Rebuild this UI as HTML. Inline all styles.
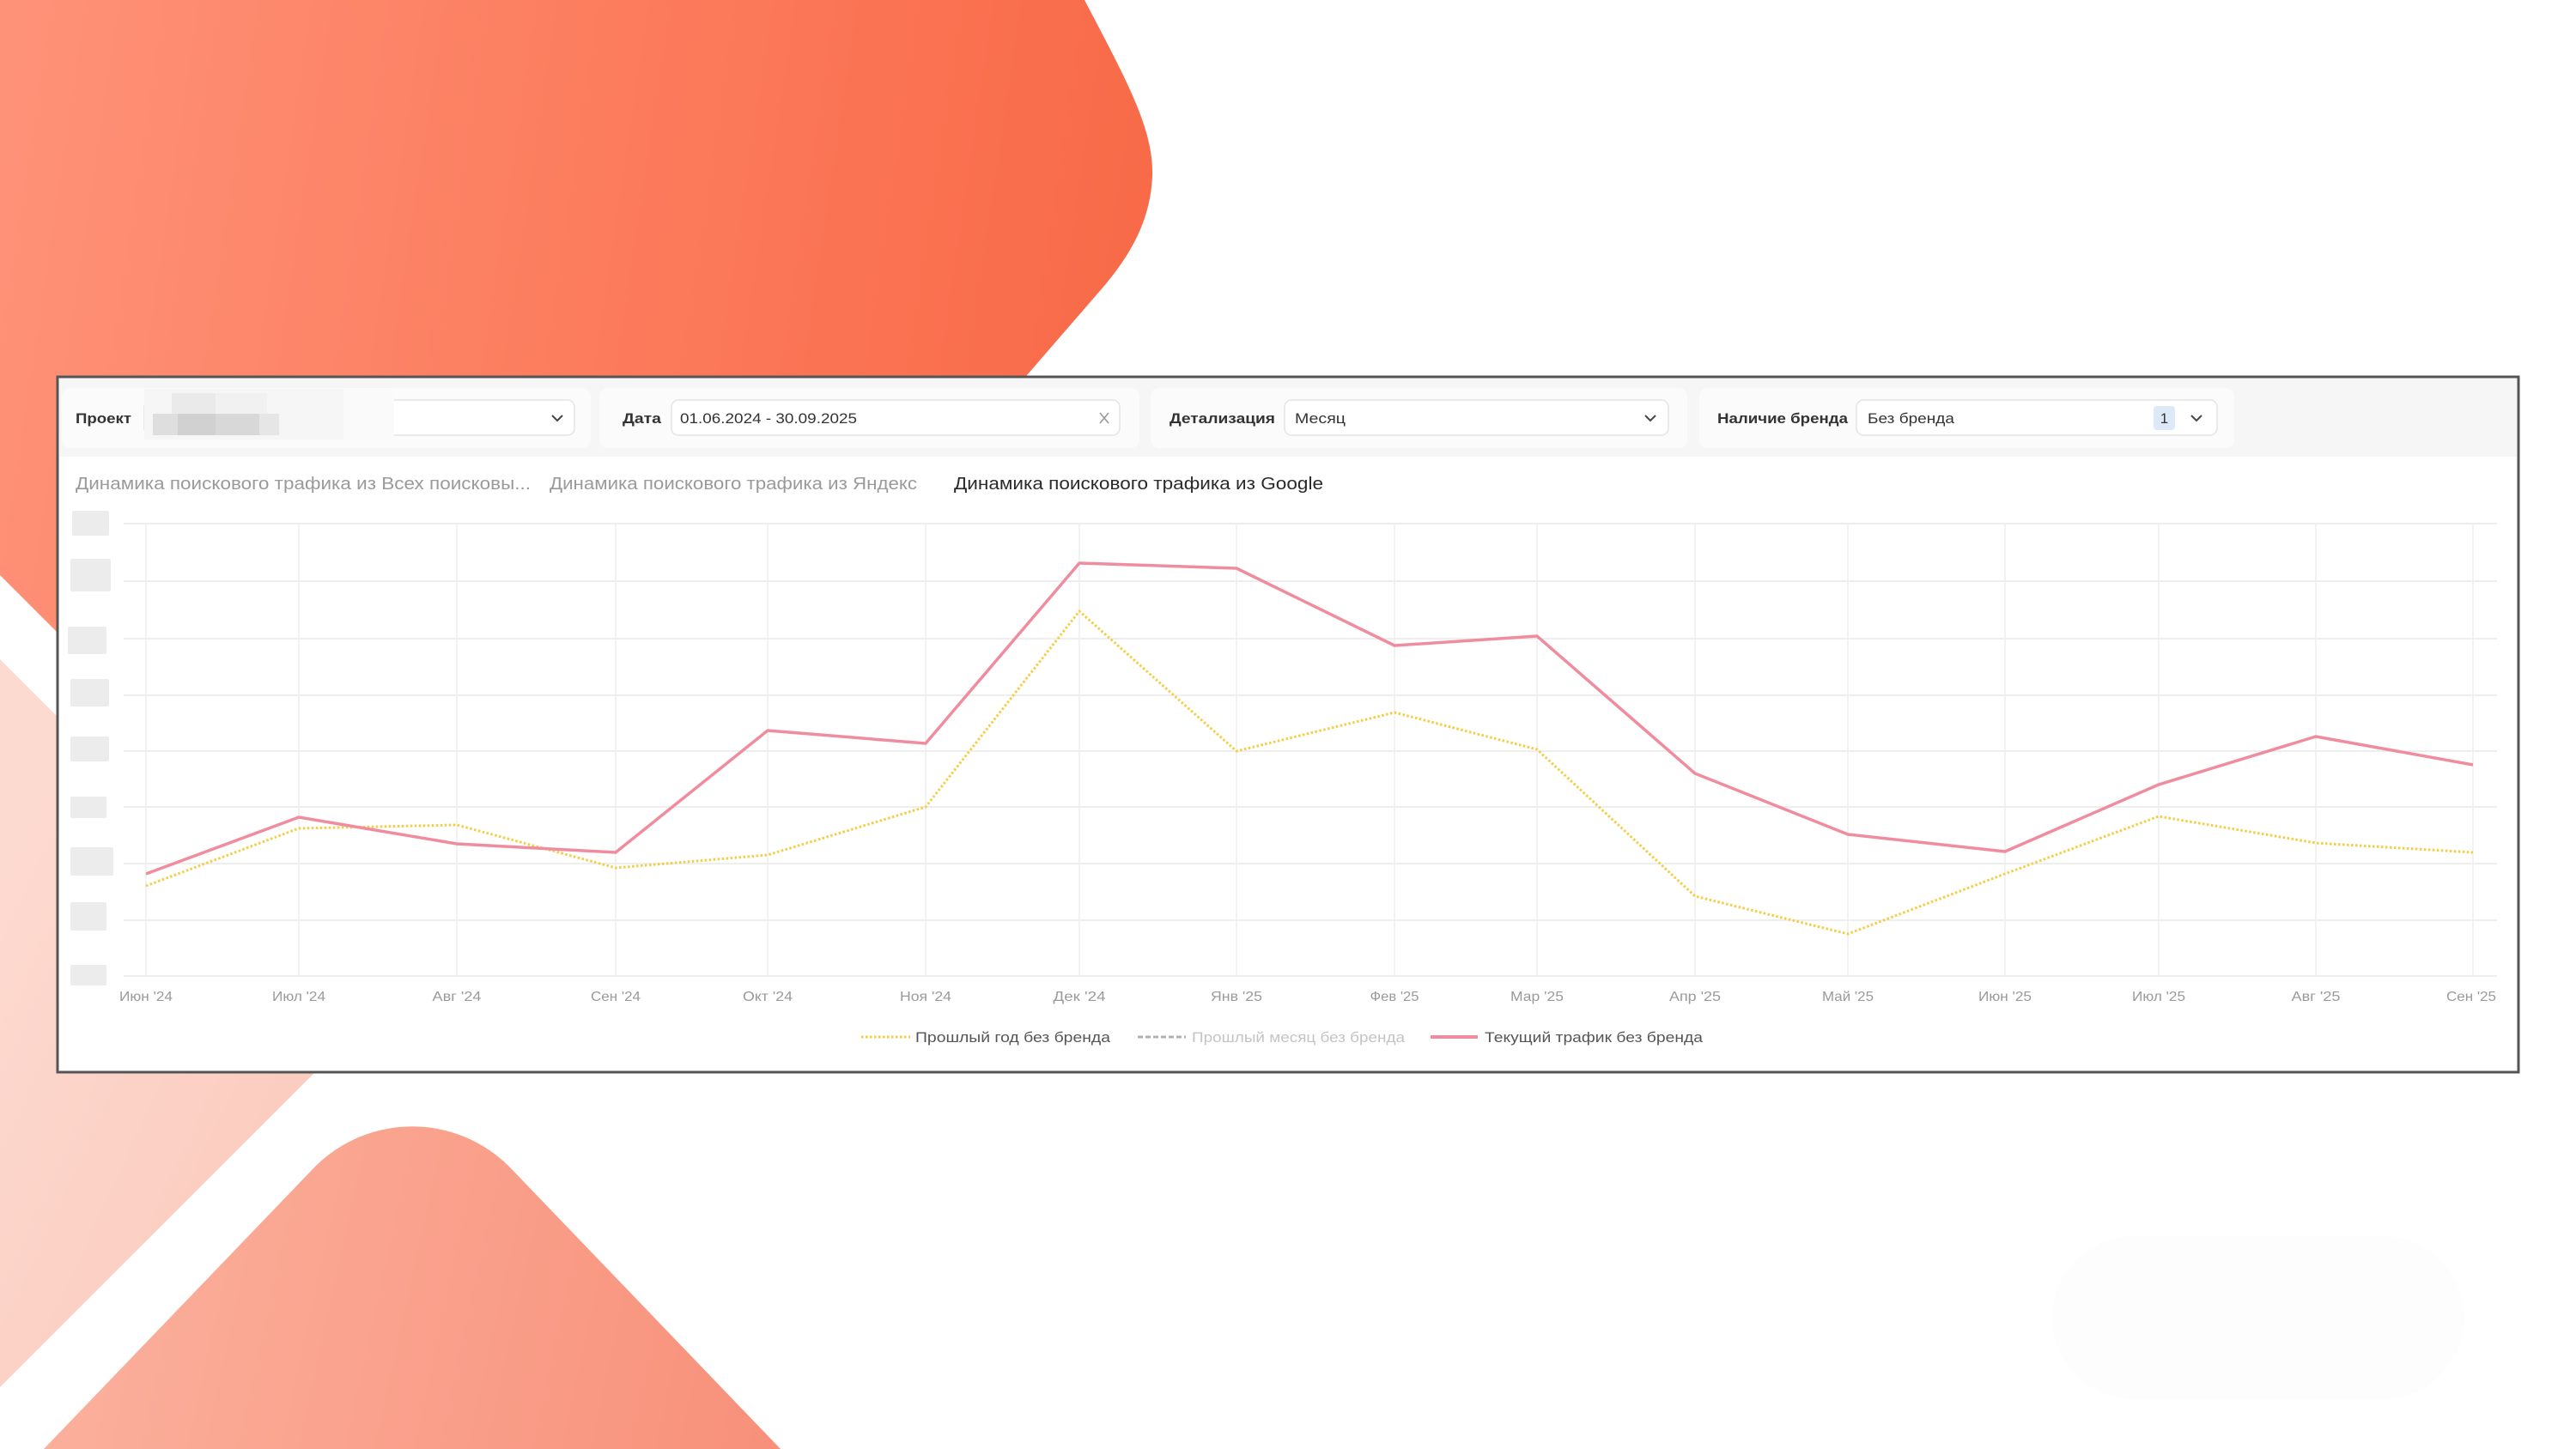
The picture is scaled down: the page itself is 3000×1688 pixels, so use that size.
<!DOCTYPE html>
<html>
<head>
<meta charset="utf-8">
<style>
  html, body { margin: 0; padding: 0; background: #ffffff; }
  svg { display: block; }
  text { font-family: "Liberation Sans", "DejaVu Sans", sans-serif; }
</style>
</head>
<body>
<svg width="3000" height="1688" viewBox="0 0 3000 1688" xmlns="http://www.w3.org/2000/svg">
  <defs>
    <linearGradient id="gOrange" gradientUnits="userSpaceOnUse" x1="0" y1="100" x2="1340" y2="300">
      <stop offset="0" stop-color="#fe9278"/>
      <stop offset="0.55" stop-color="#fc7b5c"/>
      <stop offset="1" stop-color="#f86a48"/>
    </linearGradient>
    <linearGradient id="gPale" gradientUnits="userSpaceOnUse" x1="0" y1="1000" x2="430" y2="1200">
      <stop offset="0" stop-color="#fddad0"/>
      <stop offset="1" stop-color="#fbcbbe"/>
    </linearGradient>
    <linearGradient id="gSalmon" gradientUnits="userSpaceOnUse" x1="51" y1="1500" x2="909" y2="1688">
      <stop offset="0" stop-color="#fbb19d"/>
      <stop offset="1" stop-color="#f8907a"/>
    </linearGradient>
  </defs>

  <!-- background -->
  <rect x="0" y="0" width="3000" height="1688" fill="#ffffff"/>
  <path d="M0,0 L1263,0 C1310,90 1344,150 1342,205 C1340,255 1318,295 1286,333 L533,1203 L0,670 Z" fill="url(#gOrange)"/>
  <path d="M0,768 L388,1156 Q424,1192 388,1228 L0,1616 Z" fill="url(#gPale)"/>
  <path d="M51,1688 L367,1359 A160,160 0 0 1 593,1359 L909,1688 Z" fill="url(#gSalmon)"/>
  <rect x="2390" y="1440" width="480" height="190" rx="95" fill="#fdfdfd"/>

  <!-- panel -->
  <rect x="67" y="439" width="2866" height="810" fill="#ffffff" stroke="#555555" stroke-width="3"/>
  <rect x="69" y="441" width="2862" height="91" fill="#f6f6f6"/>

  <!-- filter cards -->
  <rect x="72" y="452" width="616" height="70" rx="10" fill="#fbfbfb"/>
  <rect x="698" y="452" width="629" height="70" rx="10" fill="#fbfbfb"/>
  <rect x="1340" y="452" width="625" height="70" rx="10" fill="#fbfbfb"/>
  <rect x="1979" y="452" width="623" height="70" rx="10" fill="#fbfbfb"/>

  <!-- inputs -->
  <rect x="168" y="466" width="501" height="41" rx="8" fill="#ffffff" stroke="#e4e4e4" stroke-width="1.5"/>
  <rect x="782" y="466" width="522" height="41" rx="8" fill="#ffffff" stroke="#e4e4e4" stroke-width="1.5"/>
  <rect x="1496" y="466" width="447" height="41" rx="8" fill="#ffffff" stroke="#e4e4e4" stroke-width="1.5"/>
  <rect x="2162" y="466" width="420" height="41" rx="8" fill="#ffffff" stroke="#e4e4e4" stroke-width="1.5"/>

  <!-- blurred project name mosaic -->
  <rect x="168" y="453" width="291" height="59" fill="#f6f6f6"/>
  <rect x="200" y="458" width="51" height="24" fill="#eaeaea"/>
  <rect x="251" y="458" width="60" height="24" fill="#f1f1f1"/>
  <rect x="178" y="482" width="29" height="25" fill="#dedede"/>
  <rect x="207" y="482" width="44" height="25" fill="#d1d1d1"/>
  <rect x="251" y="482" width="51" height="25" fill="#d8d8d8"/>
  <rect x="302" y="482" width="23" height="25" fill="#e6e6e6"/>
  <rect x="400" y="453" width="59" height="59" fill="#fafafa"/>

  <!-- labels -->
  <text x="88" y="493" font-size="17" font-weight="bold" fill="#333" textLength="65" lengthAdjust="spacingAndGlyphs">Проект</text>
  <text x="725" y="493" font-size="17" font-weight="bold" fill="#333" textLength="45" lengthAdjust="spacingAndGlyphs">Дата</text>
  <text x="792" y="493" font-size="17" fill="#333" textLength="206" lengthAdjust="spacingAndGlyphs">01.06.2024 - 30.09.2025</text>
  <text x="1362" y="493" font-size="17" font-weight="bold" fill="#333" textLength="123" lengthAdjust="spacingAndGlyphs">Детализация</text>
  <text x="1508" y="493" font-size="17" fill="#333" textLength="59" lengthAdjust="spacingAndGlyphs">Месяц</text>
  <text x="2000" y="493" font-size="17" font-weight="bold" fill="#333" textLength="152" lengthAdjust="spacingAndGlyphs">Наличие бренда</text>
  <text x="2175" y="493" font-size="17" fill="#333" textLength="101" lengthAdjust="spacingAndGlyphs">Без бренда</text>

  <!-- badge -->
  <rect x="2508" y="473" width="25" height="28" rx="4" fill="#dce9f7"/>
  <text x="2520.5" y="493" font-size="17" fill="#333" text-anchor="middle">1</text>

  <!-- chevrons & clear icon -->
  <polyline points="643,484 649,490 655,484" fill="none" stroke="#444" stroke-width="2"/>
  <polyline points="1916,484 1922,490 1928,484" fill="none" stroke="#444" stroke-width="2"/>
  <polyline points="2552,484 2558,490 2564,484" fill="none" stroke="#444" stroke-width="2"/>
  <line x1="1281" y1="481" x2="1291" y2="493" stroke="#999" stroke-width="1.6"/>
  <line x1="1291" y1="481" x2="1281" y2="493" stroke="#999" stroke-width="1.6"/>

  <!-- tabs -->
  <text x="88" y="570" font-size="20" fill="#9a9a9a" textLength="530" lengthAdjust="spacingAndGlyphs">Динамика поискового трафика из Всех поисковы...</text>
  <text x="640" y="570" font-size="20" fill="#9a9a9a" textLength="428" lengthAdjust="spacingAndGlyphs">Динамика поискового трафика из Яндекс</text>
  <text x="1111" y="570" font-size="20" fill="#2a2a2a" textLength="430" lengthAdjust="spacingAndGlyphs">Динамика поискового трафика из Google</text>

  <!-- y-axis blurred label placeholders -->
  <g fill="#ececec">
    <rect x="84" y="595" width="43" height="29" rx="2"/>
    <rect x="82" y="651" width="47" height="38" rx="2"/>
    <rect x="79" y="730" width="45" height="32" rx="2"/>
    <rect x="82" y="791" width="45" height="32" rx="2"/>
    <rect x="82" y="858" width="45" height="29" rx="2"/>
    <rect x="82" y="928" width="42" height="25" rx="2"/>
    <rect x="82" y="987" width="50" height="33" rx="2"/>
    <rect x="82" y="1051" width="42" height="33" rx="2"/>
    <rect x="82" y="1124" width="42" height="24" rx="2"/>
  </g>

  <!-- horizontal grid -->
  <g stroke="#e9e9e9" stroke-width="1.5">
    <line x1="144" y1="610" x2="2908" y2="610"/>
    <line x1="144" y1="677" x2="2908" y2="677"/>
    <line x1="144" y1="744" x2="2908" y2="744"/>
    <line x1="144" y1="810" x2="2908" y2="810"/>
    <line x1="144" y1="875" x2="2908" y2="875"/>
    <line x1="144" y1="940" x2="2908" y2="940"/>
    <line x1="144" y1="1006" x2="2908" y2="1006"/>
    <line x1="144" y1="1072" x2="2908" y2="1072"/>
    <line x1="144" y1="1137" x2="2908" y2="1137"/>
  </g>
  <!-- vertical grid -->
  <g stroke="#eeeeee" stroke-width="1.5">
    <line x1="170" y1="610" x2="170" y2="1137"/>
    <line x1="348" y1="610" x2="348" y2="1137"/>
    <line x1="532" y1="610" x2="532" y2="1137"/>
    <line x1="717" y1="610" x2="717" y2="1137"/>
    <line x1="894" y1="610" x2="894" y2="1137"/>
    <line x1="1078" y1="610" x2="1078" y2="1137"/>
    <line x1="1257" y1="610" x2="1257" y2="1137"/>
    <line x1="1440" y1="610" x2="1440" y2="1137"/>
    <line x1="1624" y1="610" x2="1624" y2="1137"/>
    <line x1="1790" y1="610" x2="1790" y2="1137"/>
    <line x1="1974" y1="610" x2="1974" y2="1137"/>
    <line x1="2152" y1="610" x2="2152" y2="1137"/>
    <line x1="2335" y1="610" x2="2335" y2="1137"/>
    <line x1="2514" y1="610" x2="2514" y2="1137"/>
    <line x1="2697" y1="610" x2="2697" y2="1137"/>
    <line x1="2880" y1="610" x2="2880" y2="1137"/>
  </g>

  <!-- series -->
  <polyline fill="none" stroke="#f5cd45" stroke-width="3" stroke-dasharray="2.5 2.5" stroke-linejoin="round"
    points="170,1032 348,965 532,961 717,1011 894,996 1078,940 1257,712 1440,875 1624,830 1790,873 1974,1044 2152,1088 2335,1018 2514,951 2697,982 2880,993"/>
  <polyline fill="none" stroke="#ef8d9f" stroke-width="3.5" stroke-linejoin="round"
    points="170,1018 348,952 532,983 717,993 894,851 1078,866 1257,656 1440,662 1624,752 1790,741 1974,901 2152,972 2335,992 2514,914 2697,858 2880,891"/>

  <!-- x-axis labels -->
  <g font-size="16" fill="#9a9a9a" text-anchor="middle">
    <text x="170" y="1166" textLength="62" lengthAdjust="spacingAndGlyphs">Июн '24</text>
    <text x="348" y="1166" textLength="62" lengthAdjust="spacingAndGlyphs">Июл '24</text>
    <text x="532" y="1166" textLength="57" lengthAdjust="spacingAndGlyphs">Авг '24</text>
    <text x="717" y="1166" textLength="58" lengthAdjust="spacingAndGlyphs">Сен '24</text>
    <text x="894" y="1166" textLength="58" lengthAdjust="spacingAndGlyphs">Окт '24</text>
    <text x="1078" y="1166" textLength="60" lengthAdjust="spacingAndGlyphs">Ноя '24</text>
    <text x="1257" y="1166" textLength="61" lengthAdjust="spacingAndGlyphs">Дек '24</text>
    <text x="1440" y="1166" textLength="60" lengthAdjust="spacingAndGlyphs">Янв '25</text>
    <text x="1624" y="1166" textLength="57" lengthAdjust="spacingAndGlyphs">Фев '25</text>
    <text x="1790" y="1166" textLength="62" lengthAdjust="spacingAndGlyphs">Мар '25</text>
    <text x="1974" y="1166" textLength="60" lengthAdjust="spacingAndGlyphs">Апр '25</text>
    <text x="2152" y="1166" textLength="60" lengthAdjust="spacingAndGlyphs">Май '25</text>
    <text x="2335" y="1166" textLength="62" lengthAdjust="spacingAndGlyphs">Июн '25</text>
    <text x="2514" y="1166" textLength="62" lengthAdjust="spacingAndGlyphs">Июл '25</text>
    <text x="2697" y="1166" textLength="57" lengthAdjust="spacingAndGlyphs">Авг '25</text>
    <text x="2878" y="1166" textLength="58" lengthAdjust="spacingAndGlyphs">Сен '25</text>
  </g>

  <!-- legend -->
  <line x1="1003" y1="1208" x2="1060" y2="1208" stroke="#f5cd45" stroke-width="3" stroke-dasharray="2.5 2.5"/>
  <text x="1066" y="1214" font-size="17" fill="#555" textLength="227" lengthAdjust="spacingAndGlyphs">Прошлый год без бренда</text>
  <line x1="1325" y1="1208" x2="1381" y2="1208" stroke="#b0b0b0" stroke-width="3" stroke-dasharray="6 3"/>
  <text x="1388" y="1214" font-size="17" fill="#c4c4c4" textLength="248" lengthAdjust="spacingAndGlyphs">Прошлый месяц без бренда</text>
  <line x1="1666" y1="1208" x2="1721" y2="1208" stroke="#ef8d9f" stroke-width="4"/>
  <text x="1729" y="1214" font-size="17" fill="#555" textLength="254" lengthAdjust="spacingAndGlyphs">Текущий трафик без бренда</text>
</svg>
</body>
</html>
